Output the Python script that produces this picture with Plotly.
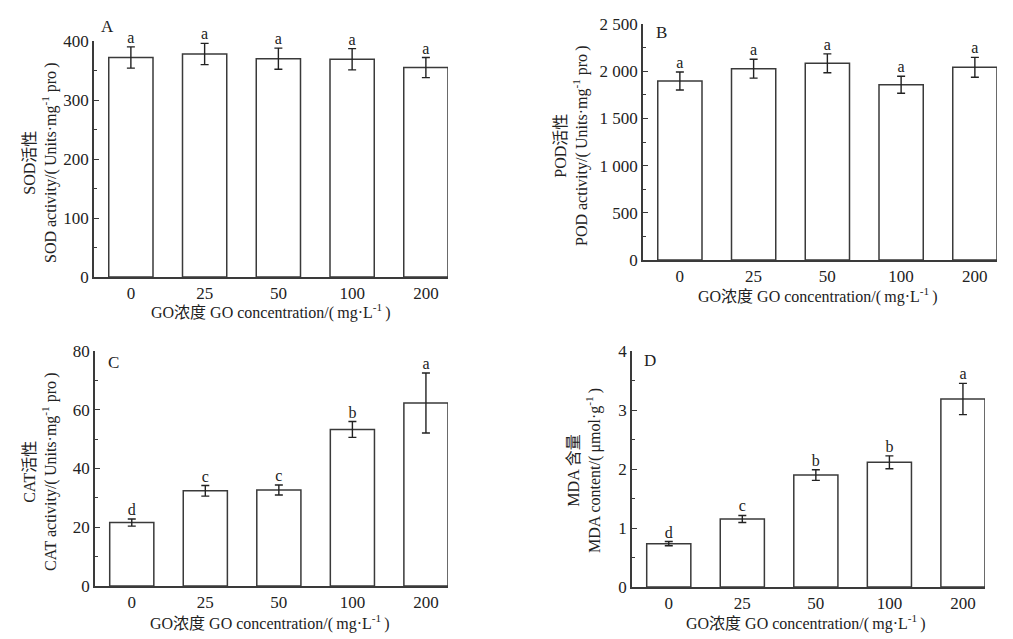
import plotly.graph_objects as go

# concentration groups (mg/L)
groups = ["0", "25", "50", "100", "200"]

sod_mean = [372, 378, 370, 369, 355]
sod_err = [18, 18, 18, 18, 17]
sod_sig = ["a", "a", "a", "a", "a"]

pod_mean = [1896, 2027, 2083, 1857, 2041]
pod_err = [95, 100, 100, 90, 105]
pod_sig = ["a", "a", "a", "a", "a"]

cat_mean = [21.6, 32.4, 32.7, 53.3, 62.3]
cat_err = [1.2, 1.8, 1.7, 2.7, 10.2]
cat_sig = ["d", "c", "c", "b", "a"]

mda_mean = [0.735, 1.153, 1.898, 2.113, 3.186]
mda_err = [0.035, 0.06, 0.09, 0.11, 0.265]
mda_sig = ["d", "c", "b", "b", "a"]

W, H = 1013, 639
FONT = "Liberation Serif, Times New Roman, Noto Sans CJK SC, serif"
INK = "#222222"
EDGE = "#3a3a3a"
TS = "\u2009"  # thin space used inside the unit brackets

x_title = f"GO浓度 GO concentration/({TS}mg·L<sup>-1</sup>{TS})"

# panel: data, y range, ticks, pixel box (left, right, top, bottom), labels
panels = [
    dict(mean=sod_mean, err=sod_err, sig=sod_sig, name="A",
         yrange=[0, 400], tickvals=[0, 100, 200, 300, 400],
         ticktext=["0", "100", "200", "300", "400"], minor=50,
         box=(94, 448, 41, 277), label_pos=(0.037, 1.06),
         ytitle=f"SOD活性<br>SOD activity/({TS}Units·mg<sup>-1</sup> pro{TS})",
         ytitle_xy=(40, 163), xtitle_xy=(271, 312)),
    dict(mean=pod_mean, err=pod_err, sig=pod_sig, name="B",
         yrange=[0, 2500], tickvals=[0, 500, 1000, 1500, 2000, 2500],
         ticktext=["0", "500", "1 000", "1 500", "2 000", "2 500"], minor=250,
         box=(643, 997, 24, 260), label_pos=(0.052, 0.962),
         ytitle=f"POD活性<br>POD activity/({TS}Units·mg<sup>-1</sup> pro{TS})",
         ytitle_xy=(572, 146), xtitle_xy=(818, 295)),
    dict(mean=cat_mean, err=cat_err, sig=cat_sig, name="C",
         yrange=[0, 80], tickvals=[0, 20, 40, 60, 80],
         ticktext=["0", "20", "40", "60", "80"], minor=10,
         box=(95, 448, 351, 586), label_pos=(0.051, 0.953),
         ytitle=f"CAT活性<br>CAT activity/({TS}Units·mg<sup>-1</sup> pro{TS})",
         ytitle_xy=(40, 472), xtitle_xy=(270, 622)),
    dict(mean=mda_mean, err=mda_err, sig=mda_sig, name="D",
         yrange=[0, 4], tickvals=[0, 1, 2, 3, 4],
         ticktext=["0", "1", "2", "3", "4"], minor=0.5,
         box=(632, 985, 351, 587), label_pos=(0.052, 0.958),
         ytitle=f"MDA 含量<br>MDA content/({TS}μmol·g<sup>-1</sup>{TS})",
         ytitle_xy=(584, 471), xtitle_xy=(806, 622)),
]

fig = go.Figure()
annotations = []

for i, p in enumerate(panels, start=1):
    xa = "x" if i == 1 else f"x{i}"
    ya = "y" if i == 1 else f"y{i}"
    left, right, top, bottom = p["box"]

    fig.add_trace(go.Bar(
        x=groups, y=p["mean"], width=0.6,
        marker=dict(color="white", line=dict(color=EDGE, width=1.5)),
        error_y=dict(type="data", array=p["err"], color=INK,
                     thickness=1.4, width=4),
        xaxis=xa, yaxis=ya, showlegend=False,
    ))
    # significance letters sit just above the error bars
    fig.add_trace(go.Scatter(
        x=groups, y=[m + e for m, e in zip(p["mean"], p["err"])],
        mode="text", text=p["sig"], textposition="top center",
        textfont=dict(family=FONT, size=16, color=INK),
        xaxis=xa, yaxis=ya, showlegend=False, cliponaxis=False,
    ))

    fig.layout[f"xaxis{'' if i == 1 else i}"] = dict(
        domain=[left / W, right / W], anchor=ya, type="category",
        range=[-0.5, 4.3], showline=True, linecolor=EDGE, linewidth=1.5,
        ticks="", showgrid=False, zeroline=False, automargin=False,
        tickfont=dict(family=FONT, size=17, color=INK),
    )
    fig.layout[f"yaxis{'' if i == 1 else i}"] = dict(
        domain=[1 - bottom / H, 1 - top / H], anchor=xa,
        range=p["yrange"], tickvals=p["tickvals"], ticktext=p["ticktext"],
        showline=True, linecolor=EDGE, linewidth=1.5,
        ticks="inside", ticklen=5, tickcolor=EDGE, tickwidth=1.3,
        minor=dict(ticks="inside", ticklen=3, tickcolor=EDGE,
                   tickwidth=1.2, dtick=p["minor"], tick0=0, showgrid=False),
        showgrid=False, zeroline=False, automargin=False,
        tickfont=dict(family=FONT, size=17, color=INK),
    )

    annotations.append(dict(
        text=p["name"], xref=f"{xa} domain", yref=f"{ya} domain",
        x=p["label_pos"][0], y=p["label_pos"][1], showarrow=False,
        xanchor="center", yanchor="middle",
        font=dict(family=FONT, size=17, color=INK),
    ))
    tx, ty = p["ytitle_xy"]
    annotations.append(dict(
        text=p["ytitle"], xref="paper", yref="paper",
        x=tx / W, y=1 - ty / H, textangle=-90, showarrow=False,
        xanchor="center", yanchor="middle",
        font=dict(family=FONT, size=16, color=INK),
    ))
    tx, ty = p["xtitle_xy"]
    annotations.append(dict(
        text=x_title, xref="paper", yref="paper",
        x=tx / W, y=1 - ty / H, showarrow=False,
        xanchor="center", yanchor="middle",
        font=dict(family=FONT, size=16, color=INK),
    ))

fig.update_layout(
    width=W, height=H,
    margin=dict(l=0, r=0, t=0, b=0, autoexpand=False),
    paper_bgcolor="white", plot_bgcolor="white",
    annotations=annotations,
    bargap=0.4,
)

# drop the default page margin so the figure sits at the window origin
fig.write_html("out.html", config={"displayModeBar": False},
               post_script="document.body.style.margin='0';")
